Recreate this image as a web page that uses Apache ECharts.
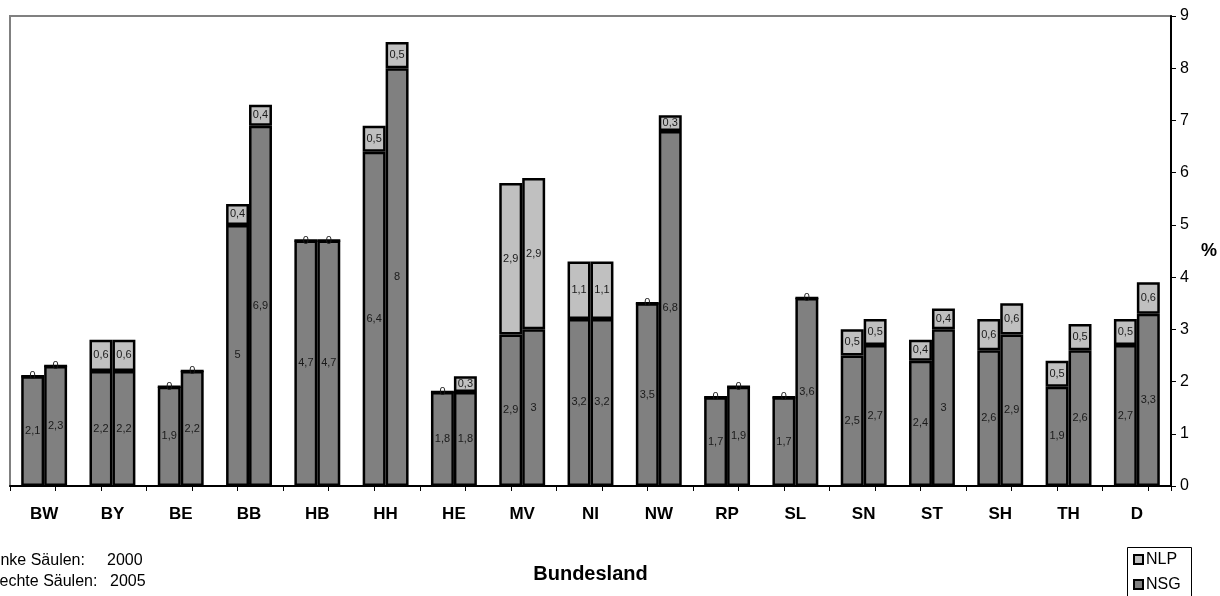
<!DOCTYPE html>
<html>
<head>
<meta charset="utf-8">
<script src="https://cdn.jsdelivr.net/npm/echarts@6/dist/echarts.min.js"></script>
<style>
  html, body { margin: 0; padding: 0; background: #fff; }
  #chart { width: 1220px; height: 596px; }
</style>
</head>
<body>
<div id="chart"></div>
<script>
// Anteil der Schutzgebiete an der Landesfläche (%), je Bundesland
const categories = ['BW','BY','BE','BB','HB','HH','HE','MV','NI','NW','RP','SL','SN','ST','SH','TH','D'];
const nsg2000 = [2.1, 2.2, 1.9, 5, 4.7, 6.4, 1.8, 2.9, 3.2, 3.5, 1.7, 1.7, 2.5, 2.4, 2.6, 1.9, 2.7];
const nlp2000 = [0, 0.6, 0, 0.4, 0, 0.5, 0, 2.9, 1.1, 0, 0, 0, 0.5, 0.4, 0.6, 0.5, 0.5];
const nsg2005 = [2.3, 2.2, 2.2, 6.9, 4.7, 8, 1.8, 3, 3.2, 6.8, 1.9, 3.6, 2.7, 3, 2.9, 2.6, 3.3];
const nlp2005 = [0, 0.6, 0, 0.4, 0, 0.5, 0.3, 2.9, 1.1, 0.3, 0, 0, 0.5, 0.4, 0.6, 0.5, 0.6];
const yTicks = [0, 1, 2, 3, 4, 5, 6, 7, 8, 9];
const legendNames = ['NLP', 'NSG'];

const FONT = '"Liberation Sans", Arial, sans-serif';
const NSG_COLOR = '#808080';
const NLP_COLOR = '#c0c0c0';
const legendColors = [NLP_COLOR, NSG_COLOR];

// three tick slots per category (boundaries plus the two bar edges)
const tickSlots = [];
categories.forEach(c => { tickSlots.push(c + 'a', c + 'b', c + 'c'); });

const fmt = p => String(p.value).replace('.', ',');

function barSeries(name, stack, data, color) {
  return {
    name, type: 'bar', stack, data,
    xAxisIndex: 0,
    barWidth: '33.6%',
    barGap: '0%',
    itemStyle: { color, borderColor: '#000', borderWidth: 2.5 },
    label: {
      show: true, position: 'inside', formatter: fmt,
      fontFamily: FONT, fontSize: 11, color: '#1a1a1a'
    },
    emphasis: { disabled: true }
  };
}

// boxed legend in the lower right corner, running off the bottom edge
const legendGraphic = [{
  type: 'rect', left: 1127, top: 547,
  shape: { width: 64, height: 60 },
  style: { fill: '#fff', stroke: '#000', lineWidth: 1 }
}];
legendNames.forEach((name, i) => {
  const cy = 560 + i * 25;
  legendGraphic.push({
    type: 'rect', x: 1134, y: cy - 5,
    shape: { width: 9, height: 9 },
    style: { fill: legendColors[i], stroke: '#000', lineWidth: 2 }
  });
  legendGraphic.push({
    type: 'text', x: 1146, y: cy,
    style: { text: name, font: '16px ' + FONT, fill: '#000', textVerticalAlign: 'middle' }
  });
});

const chart = echarts.init(document.getElementById('chart'), null, { renderer: 'canvas' });
chart.setOption({
  animation: false,
  grid: {
    left: 10, right: 45, top: 16, bottom: 110,
    show: true, borderColor: '#808080', borderWidth: 2, backgroundColor: '#fff'
  },
  xAxis: [{
    type: 'category', data: categories, position: 'bottom',
    axisLine: { lineStyle: { color: '#000', width: 2 } },
    axisTick: { show: false },
    axisLabel: { fontFamily: FONT, fontSize: 17, fontWeight: 'bold', color: '#000', margin: 20 },
    name: 'Bundesland', nameLocation: 'middle', nameGap: 78,
    nameTextStyle: { fontFamily: FONT, fontSize: 20, fontWeight: 'bold', color: '#000' }
  }, {
    type: 'category', data: tickSlots, position: 'bottom',
    axisLine: { show: false },
    axisTick: { show: true, inside: false, length: 5, lineStyle: { color: '#000', width: 1 } },
    axisLabel: { show: false }
  }],
  yAxis: {
    type: 'value', position: 'right', min: yTicks[0], max: yTicks[yTicks.length - 1], interval: 1,
    splitLine: { show: false },
    axisLine: { show: true, lineStyle: { color: '#000', width: 2 } },
    axisTick: { show: true, length: 5, lineStyle: { color: '#000' } },
    axisLabel: { fontFamily: FONT, fontSize: 16, color: '#000', margin: 9 },
    name: '%', nameLocation: 'middle', nameGap: 30, nameRotate: 0,
    nameTextStyle: { fontFamily: FONT, fontSize: 18, fontWeight: 'bold', color: '#000' }
  },
  series: [
    barSeries('NSG', 'y2000', nsg2000, NSG_COLOR),
    barSeries('NSG', 'y2005', nsg2005, NSG_COLOR),
    barSeries('NLP', 'y2000', nlp2000, NLP_COLOR),
    barSeries('NLP', 'y2005', nlp2005, NLP_COLOR)
  ],
  graphic: [
    { type: 'text', left: -12, top: 553, style: { text: 'Linke Säulen:', font: '16px ' + FONT, fill: '#000' } },
    { type: 'text', left: 107, top: 553, style: { text: '2000', font: '16px ' + FONT, fill: '#000' } },
    { type: 'text', left: -12, top: 574, style: { text: 'Rechte Säulen:', font: '16px ' + FONT, fill: '#000' } },
    { type: 'text', left: 110, top: 574, style: { text: '2005', font: '16px ' + FONT, fill: '#000' } }
  ].concat(legendGraphic)
});
</script>
</body>
</html>
